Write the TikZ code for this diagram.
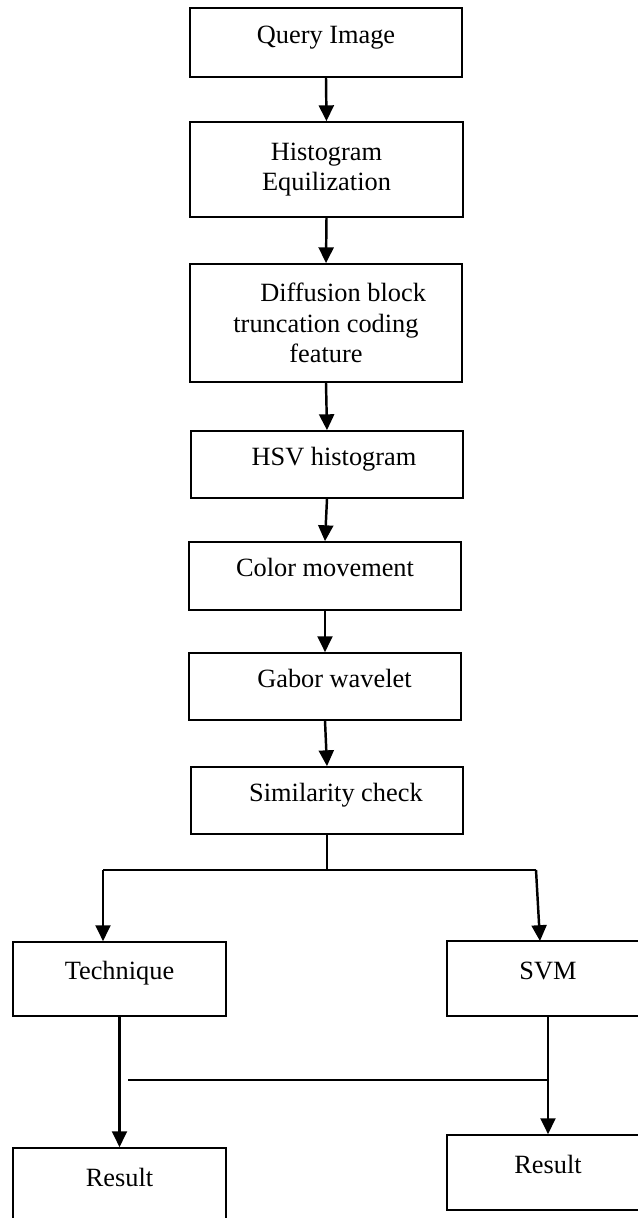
\documentclass[tikz,border=0pt]{standalone}
\usepackage{fontspec}
\setmainfont{Liberation Serif}
\usetikzlibrary{positioning, arrows.meta}

\begin{document}
\begin{tikzpicture}[x=0.02cm, y=-0.02cm,
	every node/.style={font=\fontsize{15}{17.5}\selectfont},
	box/.style={draw, line width=1pt, inner sep=0pt, text height=0.7em, text depth=0.6em},
	tallbox/.style={draw, line width=1pt, inner sep=0pt, align=center},
	arr/.style={line width=1.4pt, -{Triangle[length=9pt, width=8.5pt]}},
	link/.style={line width=1.1pt}]

	\useasboundingbox (0,0) rectangle (638,1218);
	\clip (0,0) rectangle (638,1218);

	% main chain
	\node [box, minimum width=5.44cm, minimum height=1.38cm] (query) at (326,42.5) {Query Image};
	\node [tallbox, minimum width=5.46cm, minimum height=1.9cm] (histeq) at (326.5,169.5) {Histogram\\Equilization};
	\node [tallbox, minimum width=5.44cm, minimum height=2.36cm] (dbtc) at (326,323) {\hspace*{1.3em}Diffusion block\\truncation coding\\feature};
	\node [box, minimum width=5.44cm, minimum height=1.34cm] (hsv) at (327,464.5) {\hspace*{0.53em}HSV histogram};
	\node [box, minimum width=5.44cm, minimum height=1.36cm] (colmov) at (325,576) {Color movement};
	\node [box, minimum width=5.44cm, minimum height=1.34cm] (gabor) at (325,686.5) {\hspace*{0.72em}Gabor wavelet};
	\node [box, minimum width=5.44cm, minimum height=1.34cm] (simchk) at (327,800.5) {\hspace*{0.68em}Similarity check};

	\foreach \from/\to in {query/histeq, histeq/dbtc, dbtc/hsv, hsv/colmov, colmov/gabor, gabor/simchk}
		\draw [arr] (\from.south) -- (\to.north);

	% two branches
	\node [box, minimum width=4.26cm, minimum height=1.48cm] (tech) at (119.5,979) {Technique};
	\node [box, minimum width=4.04cm, minimum height=1.5cm] (svm) at (548,978.5) {SVM};
	\node [box, minimum width=4.26cm, minimum height=1.5cm] (resleft) at (119.5,1185.5) {Result};
	\node [box, minimum width=4.04cm, minimum height=1.5cm] (resright) at (548,1172.5) {Result};

	\coordinate (split) at (327,870);
	\coordinate (splitleft) at (103,870);
	\coordinate (splitright) at (536,870);
	\coordinate (svmin) at (540,941);
	\coordinate (crossleft) at (128,1080);

	\draw [link] (simchk.south) -- (split);
	\draw [link] (splitleft) -- (splitright);
	\draw [arr] (splitleft) -- (splitleft |- tech.north);
	\draw [arr] (splitright) -- (svmin);

	\draw [arr] (tech.south) -- (resleft.north);
	\draw [arr] (svm.south) -- (resright.north);
	\draw [link] (crossleft) -- (crossleft -| svm.south);

\end{tikzpicture}
\end{document}
